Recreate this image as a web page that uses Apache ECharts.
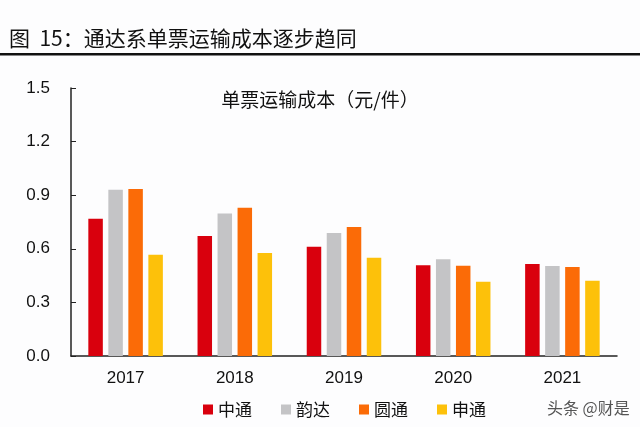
<!DOCTYPE html>
<html><head><meta charset="utf-8">
<script src="https://cdn.jsdelivr.net/npm/echarts@6/dist/echarts.min.js"></script>
<style>html,body{margin:0;padding:0;background:#fdfdfe;}#c{width:640px;height:427px;}</style>
</head><body><div id="c"></div>
<script>
const categories = ['2017','2018','2019','2020','2021'];
const seriesNames = ['中通','韵达','圆通','申通'];
const zto = [0.768, 0.672, 0.612, 0.508, 0.515];
const yunda = [0.931, 0.797, 0.688, 0.541, 0.504];
const yto = [0.935, 0.830, 0.722, 0.505, 0.498];
const sto = [0.567, 0.576, 0.550, 0.416, 0.421];
const colors = ['#d9000d', '#c4c4c6', '#fb6b07', '#fdc10a'];
const yTicks = ['0.0','0.3','0.6','0.9','1.2','1.5'];

const font = '"Liberation Sans", Arial, "Noto Sans CJK SC", sans-serif';
const cjk = '"Noto Sans CJK SC", sans-serif';
const chart = echarts.init(document.getElementById('c'));
const dataArr = [zto, yunda, yto, sto];
chart.setOption({
  animation: false,
  backgroundColor: '#fdfdfe',
  textStyle: { fontFamily: font },
  title: [
    { text: '图  15：通达系单票运输成本逐步趋同', left: 4, top: 23,
      textStyle: { fontSize: 21, fontWeight: 'normal', color: '#111', fontFamily: cjk } },
    { text: '单票运输成本（元/件）', left: 'center', top: 85,
      textStyle: { fontSize: 19, fontWeight: 'normal', color: '#111', fontFamily: cjk } },
    { text: '头条 @财是', left: 542, top: 395,
      textStyle: { fontSize: 16, fontWeight: 'normal', color: '#555', fontFamily: cjk } }
  ],
  graphic: [
    { type: 'rect', shape: { x: 0, y: 53, width: 640, height: 2.5 }, style: { fill: '#111' } }
  ],
  legend: {
    data: seriesNames, top: 396, left: 198, itemWidth: 10, itemHeight: 10, itemGap: 29,
    icon: 'rect',
    textStyle: { fontSize: 17, color: '#111', fontFamily: cjk }
  },
  grid: { left: 71, right: 23, top: 88, bottom: 71 },
  xAxis: {
    type: 'category', data: categories,
    axisLine: { lineStyle: { color: '#222', width: 1.5 } },
    axisTick: { inside: true, length: 5, lineStyle: { color: '#222' } },
    axisLabel: { fontSize: 17, color: '#111', margin: 14 }
  },
  yAxis: {
    type: 'value', min: 0, max: 1.5, interval: 0.3,
    axisLine: { show: true, lineStyle: { color: '#222', width: 1.5 } },
    axisTick: { show: true, inside: true, length: 5, lineStyle: { color: '#222' } },
    splitLine: { show: false },
    axisLabel: { fontSize: 17, color: '#111', margin: 21, formatter: (v) => yTicks[Math.round(v / 0.3)] }
  },
  series: seriesNames.map((n, i) => ({
    name: n, type: 'bar', data: dataArr[i], barWidth: 14.5, barGap: '38%',
    itemStyle: { color: colors[i] }
  }))
});
</script></body></html>
